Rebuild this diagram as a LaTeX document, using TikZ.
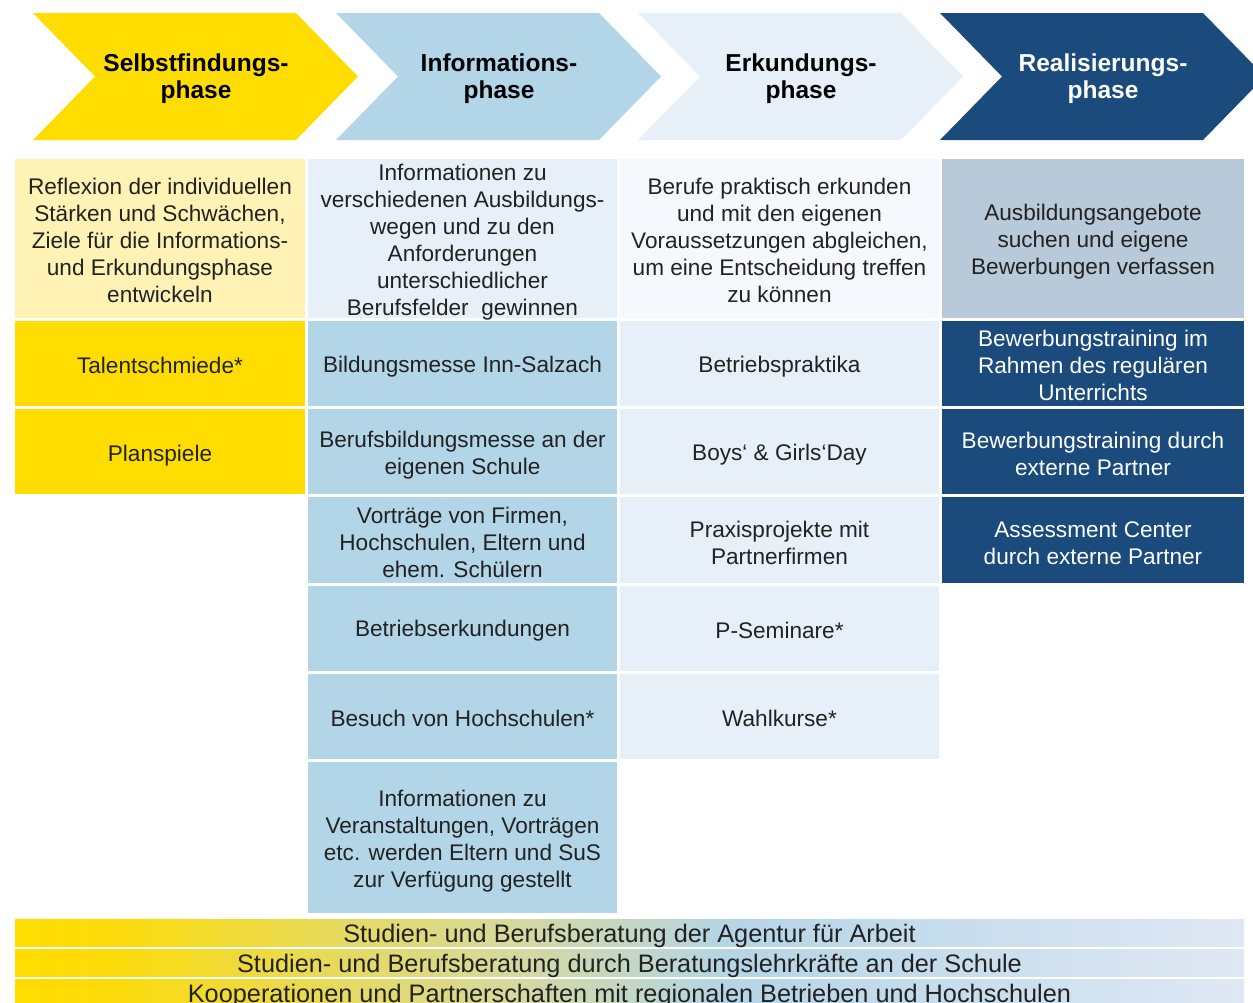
\documentclass[tikz,border=0pt]{standalone}
\usepackage{fontspec}
\setmainfont{Liberation Sans}
\definecolor{ylw}{HTML}{FFDD00}
\definecolor{ylwlight}{HTML}{FEF2B4}
\definecolor{lblue}{HTML}{B3D5E8}
\definecolor{vlblue}{HTML}{E7F0F8}
\definecolor{xlblue}{HTML}{F5F9FD}
\definecolor{gblue}{HTML}{B8C9DA}
\definecolor{dblue}{HTML}{1B4A7D}
\definecolor{txt}{HTML}{222222}
\definecolor{shA}{HTML}{FCDB0A}
\definecolor{shB}{HTML}{D6D99C}
\definecolor{shC}{HTML}{B4D5E6}
\definecolor{shD}{HTML}{E0E8F5}
\pgfdeclarehorizontalshading{barsh}{100bp}{color(0bp)=(ylw); color(25bp)=(ylw); color(29bp)=(shA); color(45bp)=(shB); color(54bp)=(shC); color(75bp)=(shD); color(100bp)=(shD)}
% name, x1, y1, x2, y2, style, text shift, text
\newcommand\cellbox[8]{%
  \fill[#6] (#2,#3) rectangle (#4,#5);
  \node[cellstyle, #6, fill=none, shade=false, yshift=-#7pt] (#1) at ({(#2+#4)/2},{(#3+#5)/2}) {#8};}
\newcommand\chev[5]{%
  \fill[#3] (#2,13) -- ++(263,0) -- ++(62,63.5) -- ++(-62,63.5) -- ++(-263,0) -- ++(62,-63.5) -- cycle;
  \node[headstyle, text=#4] (#1) at ({#2+163},79) {#5};}
\begin{document}
\begin{tikzpicture}[x=1pt,y=-1pt,
  cellstyle/.style={inner sep=0pt, outer sep=0pt, align=center, text=txt, font=\fontsize{22.6}{27}\selectfont},
  headstyle/.style={inner sep=0pt, align=center, font=\fontsize{24.5}{27}\selectfont\bfseries},
  darkcell/.style={fill=dblue, text=white},
  barstyle/.style={shading=barsh, font=\fontsize{25.3}{27}\selectfont, text=txt}]
\useasboundingbox (0,0) rectangle (1253,1002);
\clip (0,0) rectangle (1253,1002);
% chevrons
\chev{h1}{33}{ylw}{black}{Selbstfindungs-\\phase}
\chev{h2}{336}{lblue}{black}{Informations-\\phase}
\chev{h3}{638}{vlblue}{black}{Erkundungs-\\phase}
\chev{h4}{940}{dblue}{white}{Realisierungs-\\phase}
% row 0
\cellbox{c01}{15}{159}{305}{318}{fill=ylwlight}{1.5}{Reflexion der individuellen\\Stärken und Schwächen,\\Ziele für die Informations-\\und Erkundungsphase\\entwickeln}
\cellbox{c02}{308}{159}{617}{318}{fill=vlblue}{4}{Informationen zu\\verschiedenen Ausbildungs-\\wegen und zu den\\Anforderungen\\unterschiedlicher\\Berufsfelder\ \ gewinnen}
\cellbox{c03}{620}{159}{939}{318}{fill=xlblue}{1.5}{Berufe praktisch erkunden\\und mit den eigenen\\Voraussetzungen abgleichen,\\um eine Entscheidung treffen\\zu können}
\cellbox{c04}{942}{159}{1244}{318}{fill=gblue}{3}{Ausbildungsangebote\\suchen und eigene\\Bewerbungen verfassen}
% row 1
\cellbox{c11}{15}{321}{305}{406}{fill=ylw}{1.5}{Talentschmiede*}
\cellbox{c12}{308}{321}{617}{406}{fill=lblue}{3}{Bildungsmesse Inn-Salzach}
\cellbox{c13}{620}{321}{939}{406}{fill=vlblue}{3}{Betriebspraktika}
\cellbox{c14}{942}{321}{1244}{406}{darkcell}{1.5}{Bewerbungstraining im\\Rahmen des regulären\\Unterrichts}
% row 2
\cellbox{c21}{15}{409}{305}{494}{fill=ylw}{4}{Planspiele}
\cellbox{c22}{308}{409}{617}{494}{fill=lblue}{4}{Berufsbildungsmesse an der\\eigenen Schule}
\cellbox{c23}{620}{409}{939}{494}{fill=vlblue}{3}{Boys‘ \& Girls‘Day}
\cellbox{c24}{942}{409}{1244}{494}{darkcell}{2}{Bewerbungstraining durch\\externe Partner}
% row 3
\cellbox{c32}{308}{497}{617}{583}{fill=lblue}{2}{Vorträge von Firmen,\\Hochschulen, Eltern und\\ehem. Schülern}
\cellbox{c33}{620}{497}{939}{583}{fill=vlblue}{3}{Praxisprojekte mit\\Partnerfirmen}
\cellbox{c34}{942}{497}{1244}{583}{darkcell}{3}{Assessment Center\\durch externe Partner}
% row 4
\cellbox{c42}{308}{586}{617}{671}{fill=lblue}{2}{Betriebserkundungen}
\cellbox{c43}{620}{586}{939}{671}{fill=vlblue}{2}{P-Seminare*}
% row 5
\cellbox{c52}{308}{674}{617}{759}{fill=lblue}{2}{Besuch von Hochschulen*}
\cellbox{c53}{620}{674}{939}{759}{fill=vlblue}{2}{Wahlkurse*}
% row 6
\cellbox{c62}{308}{762}{617}{913}{fill=lblue}{4}{Informationen zu\\Veranstaltungen, Vorträgen\\etc. werden Eltern und SuS\\zur Verfügung gestellt}
% bars
\cellbox{b1}{15}{919}{1244}{946}{barstyle}{3}{Studien- und Berufsberatung der Agentur für Arbeit}
\cellbox{b2}{15}{949}{1244}{976}{barstyle}{3}{Studien- und Berufsberatung durch Beratungslehrkräfte an der Schule}
\cellbox{b3}{15}{979}{1244}{1006}{barstyle}{3}{Kooperationen und Partnerschaften mit regionalen Betrieben und Hochschulen}
\end{tikzpicture}
\end{document}
